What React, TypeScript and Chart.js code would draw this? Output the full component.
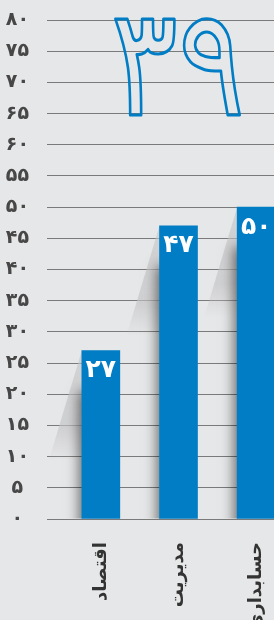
import React, { useEffect, useRef } from "react";
import { Chart, registerables } from "chart.js";

Chart.register(...registerables);

// ---- data ----
const categories = ["اقتصاد", "مدیریت", "حسابداری"];
const values = [27, 47, 50];
const yMin = 0;
const yMax = 80;
const yStep = 5;
const highlightNumber = 39;

// ---- style ----
const BG = "#e6e7e8";
const BLUE = "#007dc5";
const GRID = "#7a7a7a";
const TEXT = "#474747";
const FONT = "'DejaVu Sans', sans-serif";

const FA_DIGITS = "۰۱۲۳۴۵۶۷۸۹";
const toFa = (n: number | string) => String(n).replace(/\d/g, (d) => FA_DIGITS[+d]);

const shadowPlugin = {
  id: "barShadow",
  beforeDatasetsDraw(chart: any) {
    const ctx = chart.ctx;
    const meta = chart.getDatasetMeta(0);
    meta.data.forEach((bar: any) => {
      const xl = bar.x - bar.width / 2;
      const top = bar.y;
      const base = bar.base;
      // light diagonal wedge
      ctx.save();
      const wedgeH = 110;
      const g = ctx.createLinearGradient(0, top, 0, top + wedgeH);
      g.addColorStop(0, "rgba(196,196,198,0.6)");
      g.addColorStop(0.7, "rgba(196,196,198,0.65)");
      g.addColorStop(1, "rgba(196,196,198,0)");
      ctx.fillStyle = g;
      ctx.beginPath();
      ctx.moveTo(xl, top);
      ctx.lineTo(xl - 33, top + wedgeH);
      ctx.lineTo(xl, top + wedgeH);
      ctx.closePath();
      ctx.fill();
      ctx.restore();
      // dark soft edge shadow
      ctx.save();
      ctx.beginPath();
      ctx.rect(xl - 25, top, 25, base - top);
      ctx.clip();
      ctx.shadowColor = "rgba(0,0,0,0.55)";
      ctx.shadowBlur = 12;
      ctx.shadowOffsetX = -3;
      ctx.fillStyle = "rgba(120,120,120,1)";
      ctx.fillRect(xl, top + 40, bar.width, base - top - 40 + 30);
      ctx.restore();
    });
  },
};

const valueLabelPlugin = {
  id: "valueLabels",
  afterDatasetsDraw(chart: any) {
    const ctx = chart.ctx;
    const meta = chart.getDatasetMeta(0);
    ctx.save();
    ctx.fillStyle = "#ffffff";
    ctx.font = `bold 25px ${FONT}`;
    ctx.textAlign = "center";
    ctx.textBaseline = "middle";
    meta.data.forEach((bar: any, i: number) => {
      ctx.fillText(toFa(values[i]), bar.x, bar.y + 20);
    });
    ctx.restore();
  },
};

const bigNumberPlugin = {
  id: "bigNumber",
  afterDatasetsDraw(chart: any) {
    const ctx = chart.ctx;
    const { chartArea, scales } = chart;
    const text = toFa(highlightNumber);
    const topPx = scales.y.getPixelForValue(80.3);
    const botPx = scales.y.getPixelForValue(64.8);
    const targetH = botPx - topPx;
    const targetW = 126;
    const cx = (chartArea.left + chartArea.right) / 2 - 1;
    ctx.save();
    ctx.font = `100px ${FONT}`;
    ctx.textAlign = "center";
    ctx.textBaseline = "alphabetic";
    const m = ctx.measureText(text);
    const w = m.actualBoundingBoxLeft + m.actualBoundingBoxRight;
    const h = m.actualBoundingBoxAscent + m.actualBoundingBoxDescent;
    const sx = targetW / w;
    const sy = targetH / h;
    const offX = (m.actualBoundingBoxRight - m.actualBoundingBoxLeft) / 2;
    ctx.translate(cx, topPx);
    ctx.scale(sx, sy);
    ctx.lineWidth = 2.6 / Math.min(sx, sy);
    ctx.lineJoin = "round";
    ctx.strokeStyle = BLUE;
    ctx.strokeText(text, -offX, m.actualBoundingBoxAscent);
    ctx.restore();
  },
};

export default function App() {
  const ref = useRef<HTMLCanvasElement | null>(null);

  useEffect(() => {
    if (!ref.current) return;
    const chart = new Chart(ref.current, {
      type: "bar",
      data: {
        labels: categories,
        datasets: [
          {
            data: values,
            backgroundColor: BLUE,
            barThickness: 38,
            borderWidth: 0,
          },
        ],
      },
      options: {
        responsive: false,
        maintainAspectRatio: false,
        animation: false,
        layout: { padding: { top: 20, right: 5, left: 0, bottom: 0 } },
        plugins: {
          legend: { display: false },
          tooltip: { enabled: false },
        },
        scales: {
          y: {
            min: yMin,
            max: yMax,
            border: { display: false },
            grid: {
              color: GRID,
              lineWidth: 1,
              drawTicks: true,
              tickLength: 15,
            },
            ticks: {
              stepSize: yStep,
              callback: (v: any) => toFa(v),
              color: TEXT,
              font: { family: FONT, weight: "bold", size: 19 },
              crossAlign: "center",
              padding: 18,
            },
            afterFit: (s: any) => {
              s.width = 62;
              s.paddingTop = 0;
              s.paddingBottom = 0;
            },
          },
          x: {
            border: { display: false },
            grid: { display: false },
            ticks: {
              color: "#333333",
              font: { family: FONT, weight: "bold", size: 18 },
              minRotation: 90,
              maxRotation: 90,
              padding: 15,
            },
            afterFit: (s: any) => {
              s.height = 101;
              s.paddingLeft = 0;
              s.paddingRight = 0;
            },
          },
        },
      },
      plugins: [shadowPlugin, valueLabelPlugin, bigNumberPlugin],
    } as any);
    return () => chart.destroy();
  }, []);

  return (
    <div
      style={{
        position: "absolute",
        left: 0,
        top: 0,
        width: 274,
        height: 620,
        overflow: "hidden",
        background: BG,
      }}
    >
      <canvas ref={ref} width={300} height={620} style={{ display: "block", width: 300, height: 620 }} />
    </div>
  );
}
